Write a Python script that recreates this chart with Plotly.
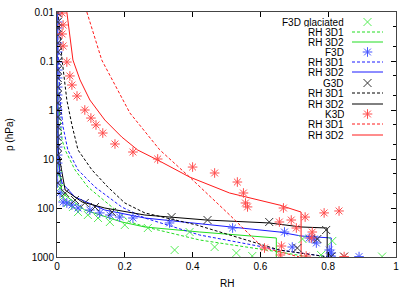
import plotly.graph_objects as go

# ---------------- data (RH, p in hPa) ----------------
axis_p = [0.0105, 0.016, 0.0212, 0.0294, 0.043, 0.0655, 0.105, 0.153, 0.222, 0.34,
          0.494, 0.72, 1.0, 1.39, 2.22, 3.56, 5.7, 8.3, 12.1, 19.3, 30.9]

# F3D glaciated (green x)
f3dg_rh = [0.003, 0.009, 0.018, 0.032, 0.047, 0.062, 0.091, 0.121, 0.156, 0.2, 0.268,
           0.347, 0.391, 0.465, 0.529, 0.576, 0.724, 0.812, 0.779, 0.959]
f3dg_p = [21.2, 39.1, 59.7, 79, 95.5, 121, 139, 160, 193, 222, 256,
          720, 309, 625, 828, 955, 429, 471, 910, 980]
f3dg_rh1_rh = [0, 0.003, 0.015, 0.024, 0.053, 0.091, 0.162, 0.215, 0.274, 0.421, 0.656, 0.744]
f3dg_rh1_p = [0.01, 0.625, 4.1, 6.55, 16.7, 37.3, 95.5, 193, 256, 450, 791, 1000]
f3dg_rh2_rh = [0, 0.0015, 0.003, 0.015, 0.082, 0.191, 0.259, 0.421, 0.647, 0.647]
f3dg_rh2_p = [0.01, 1.6, 10.5, 49.4, 110, 193, 244, 309, 409, 1000]

# F3D (blue *)
f3d_rh = [0.002] * 21 + [0.009, 0.018, 0.029, 0.044, 0.062, 0.097, 0.126, 0.156, 0.185,
                         0.224, 0.332, 0.518, 0.671, 0.694, 0.744, 0.759, 0.765, 0.803,
                         0.809, 0.809, 0.891]
f3d_p = axis_p + [49.4, 75.5, 79, 87, 100, 110, 126, 139, 153, 160, 202, 256, 309, 625,
                  409, 429, 518, 720, 830, 960, 980]
f3d_rh1_rh = [0.0015, 0.003, 0.009, 0.018, 0.032, 0.062, 0.112, 0.191, 0.259, 0.421, 0.656, 0.803]
f3d_rh1_p = [0.01, 0.0597, 0.625, 2.22, 6.55, 16.7, 37.3, 95.5, 160, 356, 720, 1000]
f3d_rh2_rh = [0, 0.0015, 0.003, 0.009, 0.015, 0.053, 0.141, 0.259, 0.509, 0.656, 0.72, 0.809, 0.809]
f3d_rh2_p = [0.01, 0.625, 6.55, 21.2, 31, 59.7, 110, 160, 244, 309, 373, 409, 1000]

# G3D (black x)
g3d_rh = [0.002] * 21 + [0.024, 0.053, 0.082, 0.112, 0.162, 0.338, 0.444, 0.626, 0.794,
                         0.768, 0.709, 0.809, 0.847]
g3d_p = axis_p + [49.4, 68.7, 79, 95.5, 121, 153, 176, 193, 281, 429, 655, 980, 980]
g3d_rh1_rh = [0.003, 0.015, 0.029, 0.044, 0.062, 0.103, 0.15, 0.2, 0.259, 0.412, 0.656, 0.72, 0.8]
g3d_rh1_p = [0.01, 0.0955, 0.625, 2.02, 6.55, 16.7, 37.3, 79, 126, 222, 720, 828, 1000]
g3d_rh2_rh = [0, 0.0015, 0.003, 0.015, 0.024, 0.074, 0.141, 0.259, 0.332, 0.441, 0.626, 0.72, 0.797, 0.797]
g3d_rh2_p = [0.01, 0.625, 6.55, 19.3, 43, 75.5, 100, 139, 153, 176, 202, 244, 256, 1000]

# K3D (red *)
k3d_rh = [0.015, 0.018, 0.015, 0.018, 0.029, 0.038, 0.044, 0.059, 0.082, 0.1, 0.115, 0.135,
          0.171, 0.224, 0.297, 0.4, 0.465, 0.532, 0.55, 0.556, 0.562, 0.668, 0.656, 0.691,
          0.706, 0.732, 0.788, 0.832, 0.753, 0.75, 0.662, 0.659, 0.735, 0.847, 0.612]
k3d_p = [0.0105, 0.0184, 0.0281, 0.0494, 0.105, 0.202, 0.309, 0.518, 1.0, 1.46, 2.02, 2.95,
         4.94, 7.2, 10, 14.6, 19.3, 29.5, 49.4, 79, 95, 100, 193, 176,
         256, 153, 126, 115, 309, 409, 597, 910, 955, 980, 655]
k3d_rh1_rh = [0.088, 0.132, 0.215, 0.303, 0.391, 0.509, 0.606, 0.715]
k3d_rh1_p = [0.01, 0.0955, 1.15, 6.5, 23.3, 138, 630, 1000]
k3d_rh2_rh = [0.029, 0.047, 0.068, 0.097, 0.141, 0.191, 0.238, 0.297, 0.391, 0.509, 0.656, 0.72, 0.72]
k3d_rh2_p = [0.01, 0.0955, 0.244, 0.625, 1.6, 3.56, 6.55, 10.5, 23.3, 49.4, 87, 121, 1000]

legend_labels = ["F3D glaciated", "RH 3D1", "RH 3D2", "F3D", "RH 3D1", "RH 3D2",
                 "G3D", "RH 3D1", "RH 3D2", "K3D", "RH 3D1", "RH 3D2"]

y_tickvals = [0.01, 0.1, 1, 10, 100, 1000]
y_ticktext = ["0.01", "0.1", "1", "10", "100", "1000"]
x_tickvals = [0, 0.2, 0.4, 0.6, 0.8, 1]
x_ticktext = ["0", "0.2", "0.4", "0.6", "0.8", "1"]

# ---------------- styles ----------------
GREEN, BLUE, BLACK, RED = "#22dd22", "#1a1aff", "#000000", "#ff1a1a"
GREEN_M, BLUE_M, BLACK_M, RED_M = "#55ee55", "#4455ff", "#333333", "#ff4d4d"
DASH = "3px,2px"
FONT = "Liberation Sans, Arial, Helvetica, sans-serif"

FIG_W, FIG_H = 415, 291
L, R, T, B = 57, 396, 12, 257
W, H = R - L, B - T
def px(xp): return (xp - L) / W      # window pixel -> paper x
def py(yp): return (B - yp) / H      # window pixel -> paper y

fig = go.Figure()

def line(x, y, color, dash):
    fig.add_trace(go.Scatter(x=x, y=y, mode="lines", showlegend=False,
                             line=dict(color=color, width=1, dash=dash)))

def pts(x, y, color, symbol, size):
    fig.add_trace(go.Scatter(x=x, y=y, mode="markers", showlegend=False,
                             marker=dict(symbol=symbol, size=size, color=color,
                                         line=dict(color=color, width=1))))

line(f3dg_rh1_rh, f3dg_rh1_p, GREEN, DASH)
line(f3dg_rh2_rh, f3dg_rh2_p, GREEN, "solid")
line(f3d_rh1_rh, f3d_rh1_p, BLUE, DASH)
line(f3d_rh2_rh, f3d_rh2_p, BLUE, "solid")
line(g3d_rh1_rh, g3d_rh1_p, BLACK, DASH)
line(g3d_rh2_rh, g3d_rh2_p, BLACK, "solid")
line(k3d_rh1_rh, k3d_rh1_p, RED, DASH)
line(k3d_rh2_rh, k3d_rh2_p, RED, "solid")

pts(f3dg_rh, f3dg_p, GREEN_M, "x-thin", 8)
pts(f3d_rh, f3d_p, BLUE_M, "asterisk", 8)
pts(g3d_rh, g3d_p, BLACK_M, "x-thin", 8)
pts(k3d_rh, k3d_p, RED_M, "asterisk", 8)

# ---------------- custom legend (text right-aligned, sample on its right) ----------------
row_y = [22, 32, 42, 52, 62, 72, 83, 93, 104, 114, 124, 135]
styles = [("m", GREEN_M, "x-thin"), ("l", GREEN, DASH), ("l", GREEN, "solid"),
          ("m", BLUE_M, "asterisk"), ("l", BLUE, DASH), ("l", BLUE, "solid"),
          ("m", BLACK_M, "x-thin"), ("l", BLACK, DASH), ("l", BLACK, "solid"),
          ("m", RED_M, "asterisk"), ("l", RED, DASH), ("l", RED, "solid")]
for lab, yy, (kind, col, st) in zip(legend_labels, row_y, styles):
    fig.add_annotation(x=px(345), y=py(yy), xref="paper", yref="paper", text=lab,
                       showarrow=False, xanchor="right", yanchor="middle", height=10,
                       borderpad=0, font=dict(family=FONT, size=10, color="black"))
    if kind == "l":
        fig.add_trace(go.Scatter(x=[px(352), px(383)], y=[py(yy), py(yy)], mode="lines",
                                 xaxis="x2", yaxis="y2", showlegend=False,
                                 line=dict(color=col, width=1, dash=st)))
    else:
        fig.add_trace(go.Scatter(x=[px(367.5)], y=[py(yy)], mode="markers",
                                 xaxis="x2", yaxis="y2", showlegend=False,
                                 marker=dict(symbol=st, size=8, color=col,
                                             line=dict(color=col, width=1))))

# axis titles
fig.add_annotation(x=px(227), y=py(283), xref="paper", yref="paper", text="RH", showarrow=False,
                   xanchor="center", yanchor="middle", font=dict(family=FONT, size=10, color="black"))
fig.add_annotation(x=px(9), y=py(135), xref="paper", yref="paper", text="p (hPa)", showarrow=False,
                   textangle=-90, xanchor="center", yanchor="middle",
                   font=dict(family=FONT, size=10, color="black"))

minor_y = []
for d in [0.01, 0.1, 1, 10, 100]:
    minor_y += [2 * d, 5 * d]

fig.update_layout(
    template="none",
    width=FIG_W, height=FIG_H,
    margin=dict(l=L, r=FIG_W - R, t=T, b=FIG_H - B, pad=0, autoexpand=False),
    paper_bgcolor="white", plot_bgcolor="white",
    font=dict(family=FONT, size=10, color="black"),
    hovermode=False,
    xaxis=dict(range=[0, 1], tickvals=x_tickvals, ticktext=x_ticktext, automargin=False,
               ticks="inside", ticklen=5, tickcolor="black", showgrid=False, zeroline=False,
               showline=True, linecolor="#444444", linewidth=1, mirror="ticks"),
    yaxis=dict(type="log", range=[3, -2], tickvals=y_tickvals, ticktext=y_ticktext,
               automargin=False,
               ticks="inside", ticklen=5, tickcolor="black", showgrid=False, zeroline=False,
               showline=True, linecolor="#444444", linewidth=1, mirror="ticks",
               minor=dict(tickvals=minor_y, ticks="inside", ticklen=3, tickcolor="black",
                          showgrid=False)),
    xaxis2=dict(range=[0, 1], overlaying="x", visible=False),
    yaxis2=dict(range=[0, 1], overlaying="y", visible=False),
)

# remove the default 8px page margin so the figure sits at the window's top-left corner
fig.write_html("out.html", config={"displayModeBar": False, "staticPlot": True},
               post_script="document.body.style.margin='0';document.body.style.overflow='hidden';")
